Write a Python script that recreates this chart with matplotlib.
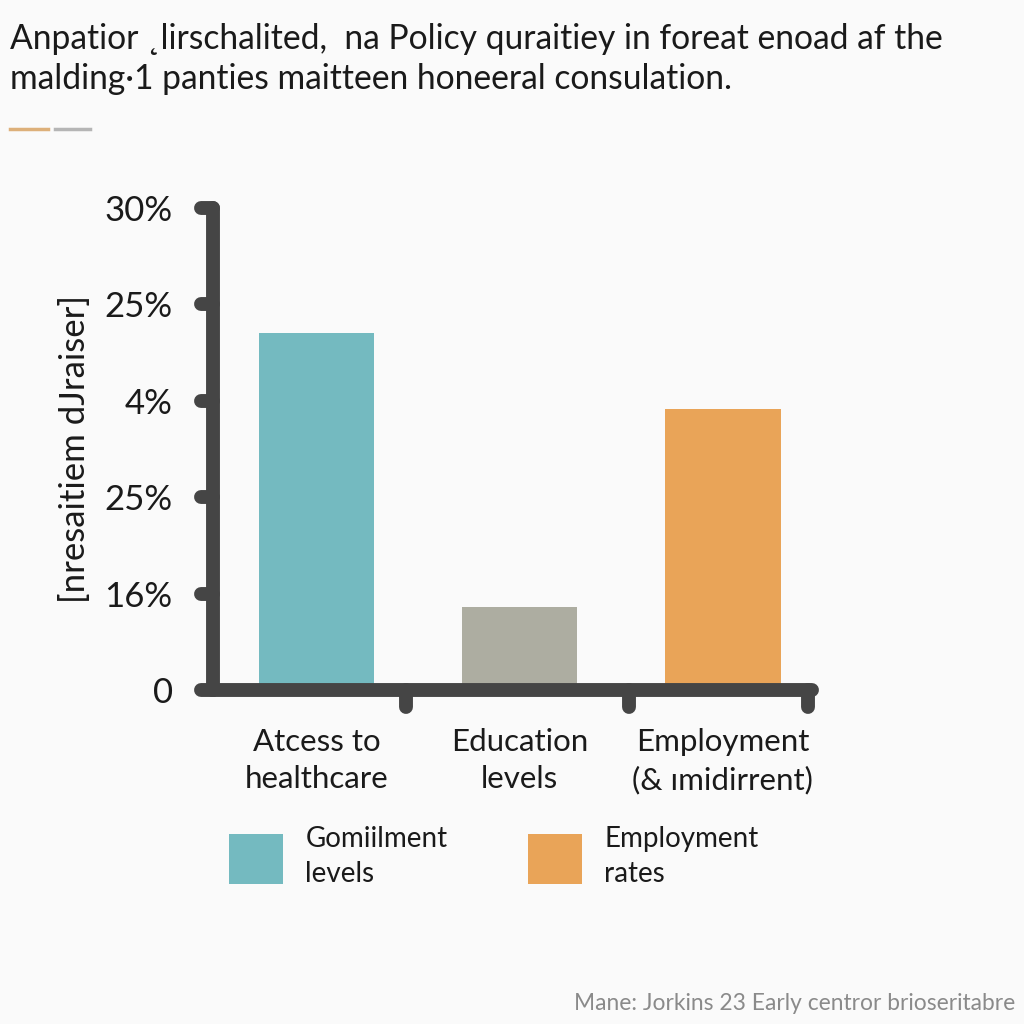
import matplotlib
matplotlib.use("Agg")
import matplotlib.pyplot as plt
from matplotlib.patches import Patch
from matplotlib.lines import Line2D
from matplotlib.markers import MarkerStyle, TICKLEFT, TICKDOWN

plt.rcParams['font.family'] = ['Lato', 'DejaVu Sans']

# ---- data ----
categories = ["Atcess to\nhealthcare", "Education\nlevels", "Employment\n(& ımidirrent)"]
values = [22.2, 5.2, 17.5]
bar_colors = ["#74BAC0", "#ADADA1", "#E9A458"]
y_ticks = [0, 6, 12, 18, 24, 30]
y_tick_labels = ["0", "16%", "25%", "4%", "25%", "30%"]
x_marks = [0.44, 1.54, 2.42]
legend_labels = ["Gomiilment\nlevels", "Employment\nrates"]
legend_colors = ["#74BAC0", "#E9A458"]
title = ("Anpatior ˛lirschalited,  na Policy quraitiey in foreat enoad af the\n"
         "malding·1 panties maitteen honeeral consulation.")
ylabel = "[nresaitiem dJraiser]"
footer = "Mane: Jorkins 23 Early centror brioseritabre"

axis_color = "#454545"
bg = "#FAFAFA"
text_color = "#1a1a1a"

fig = plt.figure(figsize=(10.24, 10.24), dpi=100, facecolor=bg)
ax = fig.add_axes([0.208, 0.326, 0.585, 0.471])
ax.set_facecolor(bg)

ax.bar(range(len(values)), values, width=0.57, color=bar_colors, zorder=2)
ax.set_xlim(-0.51, 2.44)
ax.set_ylim(0, 30)

for s in ["top", "right"]:
    ax.spines[s].set_visible(False)
for s in ["left", "bottom"]:
    ax.spines[s].set_linewidth(10)
    ax.spines[s].set_color(axis_color)
    ax.spines[s].set_capstyle("round")
    ax.spines[s].set_zorder(3)

ax.set_yticks(y_ticks, y_tick_labels)
ax.tick_params(axis="y", length=9, width=10, color=axis_color, pad=20,
               labelsize=25, labelcolor=text_color)
ax.set_xticks(range(len(categories)), categories)
ax.tick_params(axis="x", which="major", length=0, pad=27, labelsize=22.5,
               labelcolor=text_color)
for t in ax.get_xticklabels():
    t.set_linespacing(1.42)
ax.set_xticks(x_marks, minor=True)
ax.tick_params(axis="x", which="minor", length=12, width=10, color=axis_color)

for tk in ax.yaxis.get_major_ticks():
    tk.tick1line.set_marker(MarkerStyle(TICKLEFT, capstyle="round"))
for tk in ax.xaxis.get_minor_ticks():
    tk.tick1line.set_marker(MarkerStyle(TICKDOWN, capstyle="round"))

ax.set_ylabel(ylabel, fontsize=25, color=text_color, labelpad=10)

fig.text(10 / 1024, 1 - 23 / 1024, title, ha="left", va="top", fontsize=24.2,
         color=text_color, linespacing=1.3)

fig.add_artist(Line2D([10 / 1024, 48 / 1024], [1 - 129 / 1024] * 2, color="#DDB07A", lw=2.5))
fig.add_artist(Line2D([55 / 1024, 90 / 1024], [1 - 129 / 1024] * 2, color="#B5B5B5", lw=2.5))

handles = [Patch(facecolor=c, edgecolor="none") for c in legend_colors]
leg = fig.legend(handles, legend_labels, loc="upper left",
                 bbox_to_anchor=(229 / 1024, 1 - 826 / 1024), ncol=2, frameon=False,
                 fontsize=20, handlelength=1.95, handleheight=2.4, handletextpad=0.8,
                 columnspacing=2.9, borderpad=0, borderaxespad=0,
                 labelcolor=text_color)
for t in leg.get_texts():
    t.set_linespacing(1.45)

fig.text(1015 / 1024, 1 - 1003 / 1024, footer, ha="right", va="center",
         fontsize=16.4, color="#8a8a8a")

fig.savefig("out.png", dpi=100, facecolor=bg)
